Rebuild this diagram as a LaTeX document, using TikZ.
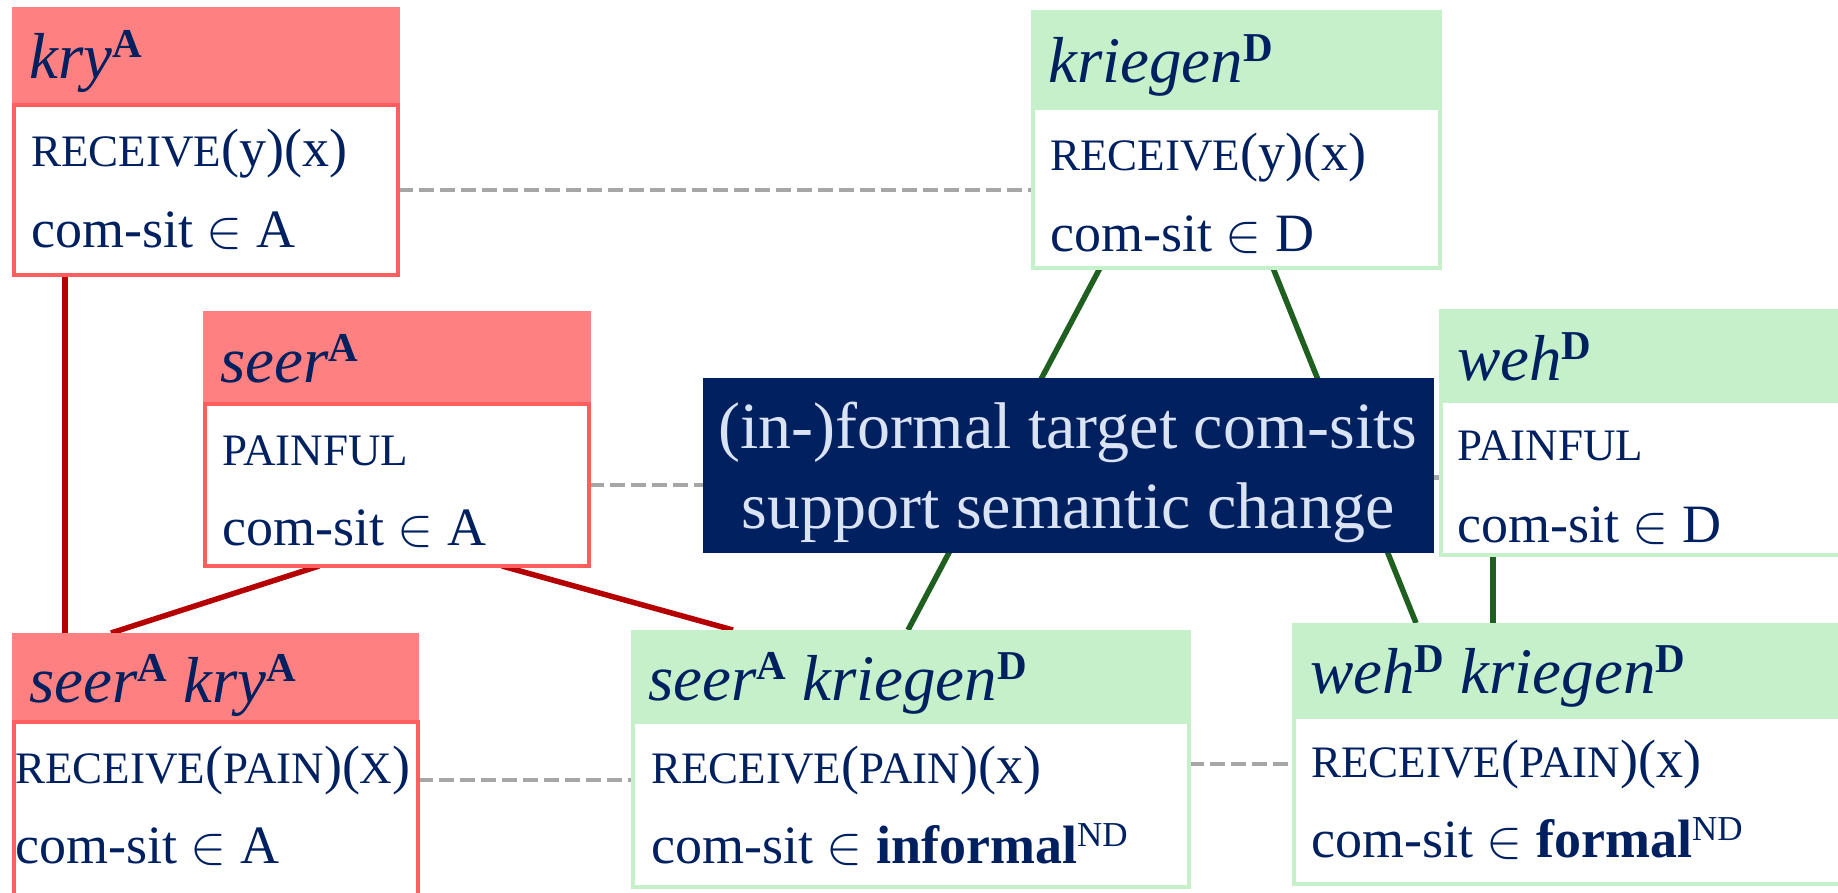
\RequirePackage{fix-cm}
\documentclass[tikz,border=0pt]{standalone}
\usepackage{fontspec}
\setmainfont{Liberation Serif}
\usetikzlibrary{calc}
\definecolor{navy}{HTML}{002060}
\definecolor{redfill}{HTML}{FF8080}
\definecolor{redline}{HTML}{FF5E5E}
\definecolor{darkred}{HTML}{B40000}
\definecolor{greenfill}{HTML}{C6F0CA}
\definecolor{greenline}{HTML}{C6F0CA}
\definecolor{darkgreen}{HTML}{1F5F1F}
\definecolor{dashgray}{HTML}{A6A6A6}
\definecolor{lighttext}{HTML}{DAE3F3}
\pgfdeclarelayer{bg}
\pgfsetlayers{bg,main}
\newcommand\hsupx[1]{\raisebox{21pt}{\fontsize{41}{41}\selectfont\upshape\bfseries #1}}
\newcommand\ndsupx[1]{\raisebox{17pt}{\fontsize{35}{35}\selectfont\upshape\mdseries #1}}
\newcommand\smcpx[1]{{\fontsize{45}{45}\selectfont #1}}
\newcommand\elemx{\ensuremath{\in}}
\begin{document}
\begin{tikzpicture}[x=1pt,y=-1pt,
  hdr/.style={anchor=north west, inner sep=0, outer sep=0, draw=none},
  redhdr/.style={hdr, fill=redfill},
  greenhdr/.style={hdr, fill=greenfill},
  body/.style={anchor=north west, inner sep=0, outer sep=0, fill=white, line width=4pt},
  redbody/.style={body, draw=redline},
  greenbody/.style={body, draw=greenline},
  hd/.style={anchor=base west, inner sep=0, text=navy, font=\fontsize{65}{70}\selectfont\itshape},
  bd/.style={anchor=base west, inner sep=0, text=navy, font=\fontsize{54}{60}\selectfont},
  ct/.style={anchor=base, inner sep=0, text=lighttext, font=\fontsize{66}{70}\selectfont},
  redlink/.style={draw=darkred, line width=5.5pt},
  greenlink/.style={draw=darkgreen, line width=5.5pt},
  graylink/.style={draw=dashgray, line width=4.5pt, dash pattern=on 15pt off 6pt}
]
\useasboundingbox (0,0) rectangle (1838,892);
\clip (0,0) rectangle (1838,892);

% kry
\node[redhdr, minimum width=388pt, minimum height=96pt] (kryH) at (12,7) {};
\node[redbody, minimum width=384pt, minimum height=170pt] (kryB) at (14,105) {};
\node[hd] (kryT) at (29,78) {kry\hsupx{A}};
\node[bd] (kry1) at (31,166) {\smcpx{RECEIVE}(y)(x)};
\node[bd] (kry2) at (31,247) {com-sit \elemx{} A};

% kriegen
\node[greenhdr, minimum width=411pt, minimum height=96pt] (kgH) at (1031,10) {};
\node[greenbody, minimum width=407pt, minimum height=160pt] (kgB) at (1033,108) {};
\node[hd] (kgT) at (1048,82) {kriegen\hsupx{D}};
\node[bd] (kg1) at (1050,170) {\smcpx{RECEIVE}(y)(x)};
\node[bd] (kg2) at (1050,251) {com-sit \elemx{} D};

% seer
\node[redhdr, minimum width=388pt, minimum height=91pt] (seerH) at (203,311) {};
\node[redbody, minimum width=384pt, minimum height=162pt] (seerB) at (205,404) {};
\node[hd] (seerT) at (220,382) {seer\hsupx{A}};
\node[bd] (seer1) at (222,465) {\smcpx{PAINFUL}};
\node[bd] (seer2) at (222,545) {com-sit \elemx{} A};

% weh
\node[greenhdr, minimum width=421pt, minimum height=90pt] (wehH) at (1439,309) {};
\node[greenbody, minimum width=419pt, minimum height=154pt] (wehB) at (1441,401) {};
\node[hd] (wehT) at (1457,380) {weh\hsupx{D}};
\node[bd] (weh1) at (1457,460) {\smcpx{PAINFUL}};
\node[bd] (weh2) at (1457,542) {com-sit \elemx{} D};

% central
\node[anchor=north west, inner sep=0, outer sep=0, fill=navy, minimum width=731pt, minimum height=175pt] (central) at (703,378) {};
\node[ct] (c1) at (1068,448) {(in-)formal target com-sits};
\node[ct] (c2) at (1068,528) {support semantic change};

% seer kry
\node[redhdr, minimum width=407pt, minimum height=87pt] (sykH) at (12,633) {};
\node[redbody, minimum width=404pt, minimum height=186pt] (sykB) at (14,722) {};
\node[hd] (sykT) at (29,702) {seer\hsupx{A} kry\hsupx{A}};
\node[bd] (syk1) at (15,783) {\smcpx{RECEIVE}(\smcpx{PAIN})(\smcpx{X})};
\node[bd] (syk2) at (15,863) {com-sit \elemx{} A};

% seer kriegen
\node[greenhdr, minimum width=560pt, minimum height=90pt] (skgH) at (631,630) {};
\node[greenbody, minimum width=556pt, minimum height=165pt] (skgB) at (633,722) {};
\node[hd] (skgT) at (648,700) {seer\hsupx{A} kriegen\hsupx{D}};
\node[bd] (skg1) at (651,783) {\smcpx{RECEIVE}(\smcpx{PAIN})(x)};
\node[bd] (skg2) at (651,863) {com-sit \elemx{} \textbf{informal}\ndsupx{ND}};

% weh kriegen
\node[greenhdr, minimum width=568pt, minimum height=92pt] (wkH) at (1292,623) {};
\node[greenbody, minimum width=566pt, minimum height=167pt] (wkB) at (1294,717) {};
\node[hd] (wkT) at (1310,693) {weh\hsupx{D} kriegen\hsupx{D}};
\node[bd] (wk1) at (1311,777) {\smcpx{RECEIVE}(\smcpx{PAIN})(x)};
\node[bd] (wk2) at (1311,857) {com-sit \elemx{} \textbf{formal}\ndsupx{ND}};

\coordinate (d3) at ([yshift=-58pt]sykB.north east);
\coordinate (d4) at ([yshift=-42pt]skgB.north east);
\coordinate (d5) at ([yshift=-12pt]central.east);

\begin{pgfonlayer}{bg}
\draw[redlink] ([xshift=51pt]kryB.south west) -- ([xshift=53pt]sykH.north west);
\draw[redlink] ([xshift=114pt]seerB.south west) -- ([xshift=99pt]sykH.north west);
\draw[redlink] ([xshift=297pt]seerB.south west) -- ([xshift=102pt]skgH.north west);
\draw[greenlink] ([xshift=67pt]kgB.south west) -- ([xshift=277pt]skgH.north west);
\draw[greenlink] ([xshift=240pt]kgB.south west) -- ([xshift=124pt]wkH.north west);
\draw[greenlink] ([xshift=52pt]wehB.south west) -- ([xshift=201pt]wkH.north west);
\draw[graylink] (kryB.east) -- (kryB.east -| kgB.west);
\draw[graylink] (seerB.east) -- (seerB.east -| central.west);
\draw[graylink] (d3) -- (d3 -| skgB.west);
\draw[graylink] (d4) -- (d4 -| wkB.west);
\draw[graylink] (d5) -- (d5 -| wehB.west);
\end{pgfonlayer}
\end{tikzpicture}
\end{document}
